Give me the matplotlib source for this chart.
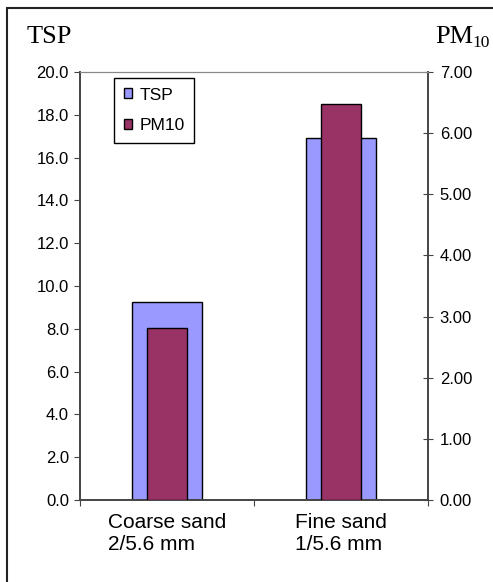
import numpy as np
import matplotlib.pyplot as plt
from matplotlib.patches import Rectangle

categories = ["Coarse sand\n2/5.6 mm", "Fine sand\n1/5.6 mm"]
tsp = [9.25, 16.9]
pm10 = [2.82, 6.48]

W, H = 493, 582
fig = plt.figure(figsize=(W / 100, H / 100), dpi=100)
plt.rcParams['font.family'] = ['Liberation Sans', 'DejaVu Sans']

# outer frame (only top and left edge visible in the original crop)
fig.patches.append(Rectangle((7 / W, -0.1), 1.2, 1 - 8 / H + 0.1, transform=fig.transFigure,
                             fill=False, edgecolor='#222222', linewidth=1.5))

ax = fig.add_axes([80 / W, 1 - 500 / H, 348 / W, 428 / H])
ax2 = ax.twinx()

x = np.arange(len(categories))
ax.bar(x, tsp, width=0.4, color='#9999ff', edgecolor='black', linewidth=1, label='TSP', zorder=2)
ax2.bar(x, pm10, width=0.225, color='#993366', edgecolor='black', linewidth=1, label='PM10', zorder=3)

ax.set_xlim(-0.5, 1.5)
ax.set_ylim(0, 20)
ax2.set_ylim(0, 7)
ax.set_yticks(np.arange(0, 20.1, 2))
ax.set_yticklabels([f"{v:.1f}" for v in np.arange(0, 20.1, 2)])
ax2.set_yticks(np.arange(0, 7.01, 1))
ax2.set_yticklabels([f"{v:.2f}" for v in np.arange(0, 7.01, 1)])

ax.set_xticks([-0.5, 0.5, 1.5])
ax.set_xticklabels([])
ax.set_xticks(x, minor=True)
ax.set_xticklabels(categories, minor=True)
for lbl in ax.get_xticklabels(minor=True):
    lbl.set_multialignment('left')
ax.tick_params(axis='x', which='minor', length=0, pad=9, labelsize=15)
ax.tick_params(axis='x', which='major', length=4.5, color='#444444')
ax.tick_params(axis='y', length=4.5, labelsize=12, color='#444444', pad=3.5)
ax2.tick_params(axis='y', length=7, labelsize=12, color='#444444', direction='inout', pad=5)

for a in (ax, ax2):
    a.spines['top'].set_color('#888888')
    a.spines['top'].set_linewidth(0.8)
    for s in ('left', 'right', 'bottom'):
        a.spines[s].set_color('#444444')
        a.spines[s].set_linewidth(1.2)

h1, l1 = ax.get_legend_handles_labels()
h2, l2 = ax2.get_legend_handles_labels()
leg = ax2.legend(h1 + h2, l1 + l2, loc='upper left', bbox_to_anchor=(34 / 348, 1 - 6 / 428),
                 fancybox=False, edgecolor='black', framealpha=1, fontsize=12.5,
                 handlelength=0.5, handleheight=0.5, handletextpad=0.4,
                 borderpad=0.55, labelspacing=0.9, borderaxespad=0)
leg.get_frame().set_linewidth(1)

fig.text(27 / W, 1 - 43 / H, "TSP", family='Liberation Serif', fontsize=19, va='baseline', ha='left')
fig.text(435 / W, 1 - 43 / H, "PM", family='Liberation Serif', fontsize=19, va='baseline', ha='left')
fig.text(472 / W, 1 - 47 / H, "10", family='Liberation Serif', fontsize=12.5, va='baseline', ha='left')

fig.savefig("out.png", dpi=100)
